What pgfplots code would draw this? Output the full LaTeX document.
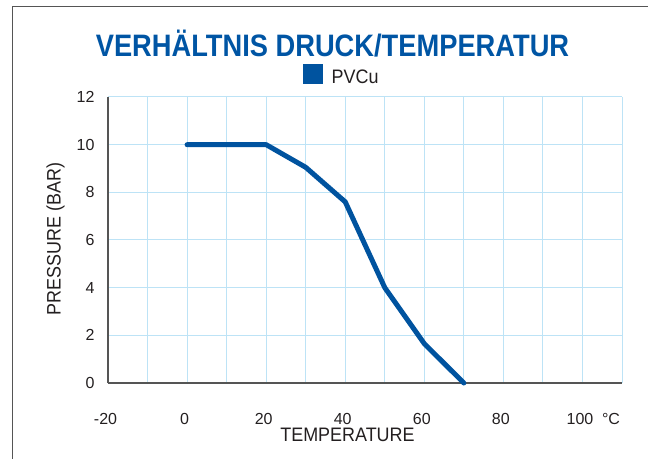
\documentclass[border=0pt]{standalone}
\usepackage{fontspec}
\setmainfont{Liberation Sans}
\newfontfamily\labfont[FakeStretch=0.92]{Liberation Sans}
\newfontfamily\titlefont[FakeStretch=0.88]{Liberation Sans Bold}
\usepackage{pgfplots}
\pgfplotsset{compat=1.18}
\definecolor{pvblue}{HTML}{00539F}
\definecolor{titleblue}{HTML}{0055A4}
\definecolor{gridblue}{HTML}{BDE3F6}
\definecolor{axgray}{HTML}{555555}
\definecolor{txt}{HTML}{231F20}
\begin{document}
\begin{tikzpicture}
\useasboundingbox (0,0) rectangle (648bp,459bp);
\draw[axgray, line width=1.2bp] (12.4bp,0) -- (12.4bp,452.6bp) -- (648bp,452.6bp);
\node[anchor=base, text=titleblue, inner sep=0pt] at (332.5bp,402.4bp) {\titlefont\fontsize{31bp}{36bp}\selectfont VERHÄLTNIS DRUCK/TEMPERATUR};
\begin{axis}[
  at={(108bp,76bp)}, anchor=south west,
  scale only axis, width=514bp, height=286bp,
  xmin=-20, xmax=110, ymin=0, ymax=12,
  xtick={-20,0,...,100}, minor xtick={-10,10,...,110},
  ytick={0,2,...,12},
  grid=both,
  major grid style={gridblue, line width=1bp},
  minor grid style={gridblue, line width=1bp},
  axis x line*=bottom, axis y line*=left,
  axis line style={axgray, line width=1.2bp, -},
  major tick length=0pt, minor tick length=0pt,
  /pgf/number format/assume math mode=true,
  xticklabel style={font=\fontsize{16bp}{18bp}\selectfont, text=txt, anchor=base, yshift=-41bp, xshift=-2.5bp},
  yticklabel style={font=\fontsize{16bp}{18bp}\selectfont, text=txt, anchor=east, xshift=-10bp},
  xlabel={TEMPERATURE},
  ylabel={PRESSURE (BAR)},
  xlabel style={font=\labfont\fontsize{19.5bp}{22bp}\selectfont, text=txt, at={(axis description cs:0.4659,0)}, anchor=base, yshift=-58.7bp},
  ylabel style={font=\labfont\fontsize{19.5bp}{22bp}\selectfont, text=txt, at={(axis description cs:0,0.5035)}, anchor=base, rotate=0, yshift=47.3bp},
  clip=false,
  legend style={draw=none, fill=none, inner sep=0pt, outer sep=0pt,
    at={(0.3794,1.0434)}, anchor=south west,
    nodes={inner sep=0pt, text=txt}},
  legend image code/.code={\path[fill=pvblue, draw=none] (0bp,-6.5bp) rectangle (20bp,13bp);},
]
\addplot[pvblue, line width=5bp, line cap=round, line join=round] coordinates {
(0,10) (20,10) (30,9.05) (40,7.6) (50,4.0) (60,1.65) (70,0)
};
\addlegendentry{\labfont\fontsize{19.5bp}{22bp}\selectfont\hspace{8.7bp}PVCu}
\node[anchor=base, inner sep=0pt, text=txt, font=\fontsize{16bp}{18bp}\selectfont] at (axis cs:110,0) [xshift=-11bp, yshift=-41bp] {°C};
\end{axis}
\end{tikzpicture}
\end{document}
